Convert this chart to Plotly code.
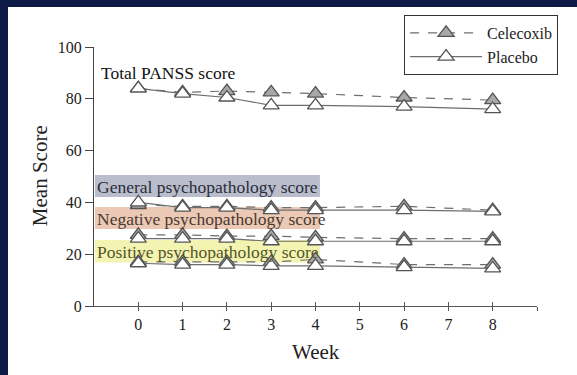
import plotly.graph_objects as go

# Weeks of assessment
weeks = [0, 1, 2, 3, 4, 6, 8]

# Mean PANSS scores per group
total_celecoxib = [84, 82.5, 83, 82.5, 82, 80.5, 79.5]
total_placebo = [84, 82, 80.5, 77.5, 77.5, 77, 76]

general_celecoxib = [39, 38.5, 38.5, 38, 38, 38.5, 37]
general_placebo = [40, 38, 38, 37, 37, 37, 36.5]

negative_celecoxib = [27.5, 27.5, 27, 27, 26.5, 26, 26]
negative_placebo = [26, 26, 26, 25, 25, 25, 25]

positive_celecoxib = [17, 17, 17, 17, 18, 16, 16]
positive_placebo = [16.5, 16, 16, 15.5, 15.5, 15, 14.5]

group_names = ["Celecoxib", "Placebo"]
score_labels = [
    "Total PANSS score",
    "General psychopathology score",
    "Negative psychopathology score",
    "Positive psychopathology score",
]
x_tick_vals = [0, 1, 2, 3, 4, 5, 6, 7, 8, 9]
x_tick_text = ["0", "1", "2", "3", "4", "5", "6", "7", "8", ""]
y_tick_vals = [0, 20, 40, 60, 80, 100]

SERIF = "Liberation Serif"
NAVY = "#0c1a45"

W, H = 577, 375
ML, MR, MT, MB = 94, 40, 47, 69
PW, PH = W - ML - MR, H - MT - MB

fig = go.Figure()

celecoxib_series = [total_celecoxib, general_celecoxib, negative_celecoxib, positive_celecoxib]
placebo_series = [total_placebo, general_placebo, negative_placebo, positive_placebo]

for i, (cel, pla) in enumerate(zip(celecoxib_series, placebo_series)):
    fig.add_trace(go.Scatter(
        x=weeks, y=cel, mode="lines+markers", name=group_names[0],
        legendgroup="cel", showlegend=(i == 0),
        line=dict(color="#6e6e6e", width=1.2, dash="dash"),
        marker=dict(symbol="triangle-up", size=14, color="#a8a8a8",
                    line=dict(color="#555555", width=1.3)),
    ))
    fig.add_trace(go.Scatter(
        x=weeks, y=pla, mode="lines+markers", name=group_names[1],
        legendgroup="pla", showlegend=(i == 0),
        line=dict(color="#6e6e6e", width=1.2),
        marker=dict(symbol="triangle-up", size=14, color="white",
                    line=dict(color="#555555", width=1.3)),
    ))

# invisible trace carrying the inward half of the x ticks
fig.add_trace(go.Scatter(x=[0], y=[0], xaxis="x2", mode="markers",
                         marker=dict(opacity=0), showlegend=False, hoverinfo="skip"))

# navy frame strips along the left and top edges of the page
left_edge = -ML / PW
bottom_edge = -MB / PH
top_edge = 1 + MT / PH
right_edge = 1 + MR / PW
fig.add_shape(type="rect", xref="paper", yref="paper",
              x0=left_edge, x1=left_edge + 8 / PW, y0=bottom_edge, y1=top_edge,
              fillcolor=NAVY, line=dict(width=0), layer="below")
fig.add_shape(type="rect", xref="paper", yref="paper",
              x0=left_edge, x1=right_edge, y0=top_edge - 7 / PH, y1=top_edge,
              fillcolor=NAVY, line=dict(width=0), layer="below")

# coloured bands behind the subscale labels
bands = [
    (50.6, 42.1, "#b9bdcc"),
    (38.2, 29.7, "#ebc9b5"),
    (25.5, 16.8, "#f3f3b2"),
]
for top, bottom, color in bands:
    fig.add_shape(type="rect", xref="x", yref="y",
                  x0=-0.98, x1=4.1, y0=bottom, y1=top,
                  fillcolor=color, line=dict(width=0), layer="below")

label_pos = [(-0.88, 90.0, "#111111"), (-0.97, 46.0, "#2b2d3a"),
             (-0.97, 33.7, "#4a3a30"), (-0.97, 20.9, "#55552a")]
for text, (lx, ly, col) in zip(score_labels, label_pos):
    fig.add_annotation(x=lx, y=ly, xref="x", yref="y", text=text,
                       showarrow=False, xanchor="left", yanchor="middle",
                       font=dict(family=SERIF, size=17.5, color=col))

fig.add_annotation(x=-0.122, y=0.505, xref="paper", yref="paper", text="Mean Score",
                   textangle=-90, showarrow=False, xanchor="center", yanchor="middle",
                   font=dict(family=SERIF, size=21, color="#222222"))
fig.add_annotation(x=0.501, y=-0.178, xref="paper", yref="paper", text="Week",
                   showarrow=False, xanchor="center", yanchor="middle",
                   font=dict(family=SERIF, size=21, color="#222222"))

fig.update_layout(
    width=W, height=H,
    margin=dict(l=ML, r=MR, t=MT, b=MB),
    paper_bgcolor="white", plot_bgcolor="white",
    showlegend=True,
    legend=dict(x=0.70, y=1.124, xanchor="left", yanchor="top",
                bgcolor="white", bordercolor="#333333", borderwidth=1,
                font=dict(family=SERIF, size=16, color="#222222"),
                itemwidth=72, tracegroupgap=0),
    xaxis=dict(range=[-1, 9], tickvals=x_tick_vals, ticktext=x_tick_text,
               ticks="outside", ticklen=4, tickcolor="#555555", tickwidth=1,
               showline=True, linecolor="#555555", linewidth=1,
               showgrid=False, zeroline=False,
               tickfont=dict(family=SERIF, size=16, color="#222222")),
    xaxis2=dict(range=[-1, 9], tickvals=x_tick_vals, overlaying="x", anchor="y",
                side="bottom", ticks="inside", ticklen=4, tickcolor="#555555",
                tickwidth=1, showticklabels=False, showgrid=False, zeroline=False),
    yaxis=dict(range=[0, 100], tickvals=y_tick_vals,
               ticks="outside", ticklen=8, tickcolor="#444444",
               showline=True, linecolor="#444444", linewidth=1,
               showgrid=False, zeroline=False,
               tickfont=dict(family=SERIF, size=16, color="#222222")),
)

fig.write_html("out.html")
